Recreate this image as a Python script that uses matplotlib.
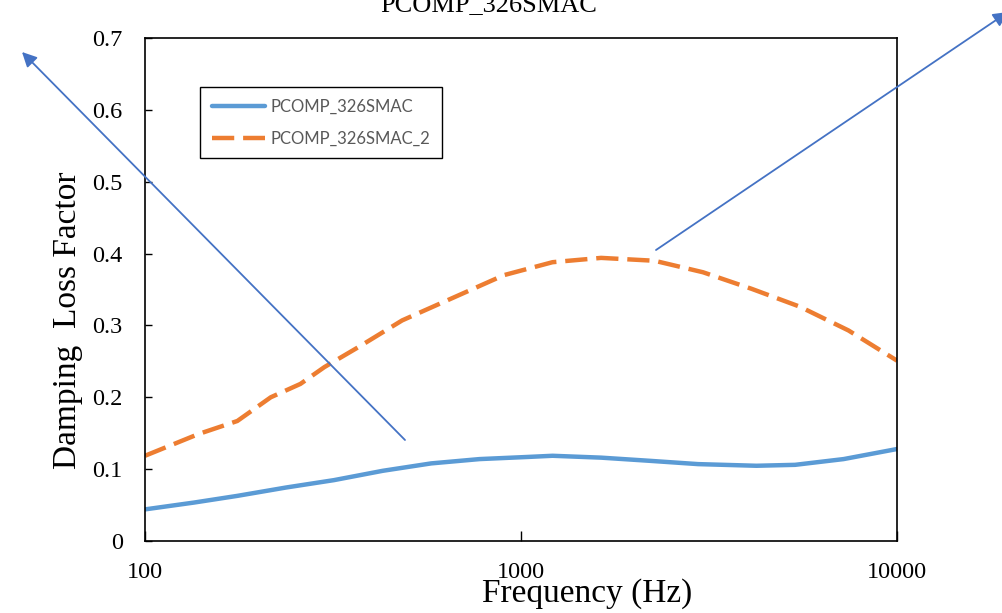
import matplotlib
matplotlib.use("Agg")
import matplotlib.pyplot as plt
import numpy as np

# damping loss factor vs frequency, two laminate variants
freq_a = [100, 135, 176, 237, 318, 429, 577, 776, 1045, 1213, 1633, 2198, 2958, 4227, 5358, 7211, 10000]
loss_a = [0.044, 0.0535, 0.0628, 0.0744, 0.0847, 0.0977, 0.108, 0.114, 0.117, 0.1186, 0.116, 0.1116,
          0.107, 0.1047, 0.106, 0.114, 0.128]

freq_b = [100, 139, 176, 216, 259, 300, 370, 483, 650, 901, 1213, 1633, 2265, 3048, 4102, 5521, 7430, 10000]
loss_b = [0.1186, 0.149, 0.167, 0.200, 0.2186, 0.242, 0.270, 0.307, 0.337, 0.370, 0.388, 0.394, 0.390,
          0.374, 0.351, 0.326, 0.293, 0.251]

series_names = ["PCOMP_326SMAC", "PCOMP_326SMAC_2"]
title = "PCOMP_326SMAC"

W, H = 1003, 613
fig = plt.figure(figsize=(W / 100, H / 100), dpi=100)
ax = fig.add_axes([145 / W, 1 - 541 / H, (897 - 145) / W, (541 - 38) / H])

serif = "Liberation Serif"

ax.plot(freq_a, loss_a, color="#5B9BD5", lw=3.2, solid_capstyle="round", solid_joinstyle="round",
        label=series_names[0])
ax.plot(freq_b, loss_b, color="#ED7D31", lw=3.2, dashes=(5, 2), label=series_names[1])

ax.set_xscale("log")
ax.set_xlim(100, 10000)
ax.set_ylim(0, 0.7)
ax.set_xticks([100, 1000, 10000])
ax.set_xticklabels(["100", "1000", "10000"])
ax.minorticks_off()
ax.set_yticks(np.arange(0, 0.71, 0.1))
ax.set_yticklabels(["0", "0.1", "0.2", "0.3", "0.4", "0.5", "0.6", "0.7"])

ax.tick_params(axis="x", direction="in", length=7, width=1, pad=15, labelsize=17.5)
ax.tick_params(axis="y", direction="in", length=5, width=1, pad=16, labelsize=17.5)
for lab in ax.get_xticklabels() + ax.get_yticklabels():
    lab.set_fontfamily(serif)
for sp in ax.spines.values():
    sp.set_linewidth(1.2)
    sp.set_color("black")

leg = ax.legend(loc="upper left", bbox_to_anchor=((200 - 145) / (897 - 145), (541 - 87) / (541 - 38)),
                frameon=True, fancybox=False, edgecolor="black", framealpha=1,
                prop={"family": "Lato", "size": 12}, labelcolor="#595959",
                handlelength=3.2, handletextpad=0.35, labelspacing=0.95, borderpad=0.7,
                borderaxespad=0)
leg.get_frame().set_linewidth(1.0)

fig.text(489 / W, 1 - 11 / H, title, ha="center", va="baseline", fontsize=19, family=serif)
fig.text(587 / W, 1 - 594 / H, "Frequency (Hz)", ha="center", va="center", fontsize=24, family=serif)
fig.text(68 / W, 1 - 320 / H, "Damping  Loss Factor", ha="center", va="center", rotation=90,
         fontsize=24, family=serif)

arrow = dict(arrowstyle="-|>", color="#4472C4", lw=1.3, mutation_scale=22, shrinkA=0, shrinkB=0)
fig.add_artist(matplotlib.patches.FancyArrowPatch((405 / W, 1 - 440 / H), (22 / W, 1 - 52 / H),
                                                  transform=fig.transFigure, **arrow))
fig.add_artist(matplotlib.patches.FancyArrowPatch((656 / W, 1 - 250 / H), (1008 / W, 1 - 12 / H),
                                                  transform=fig.transFigure, **arrow))

fig.savefig("out.png", dpi=100)
